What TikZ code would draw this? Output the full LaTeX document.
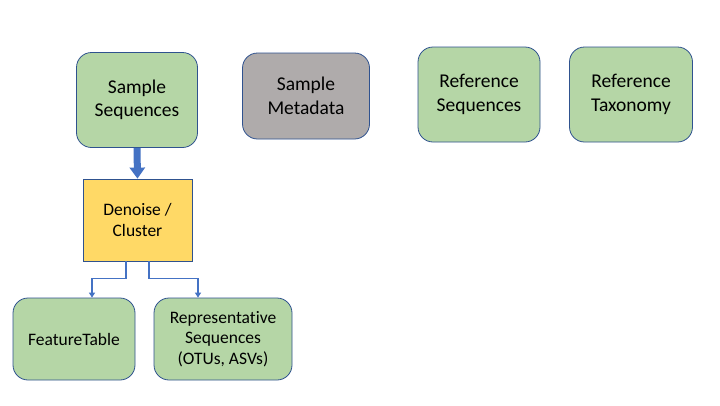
\documentclass[tikz,border=0pt]{standalone}
\usepackage{fontspec}
\setmainfont[Ligatures=NoCommon]{Carlito}
\usetikzlibrary{arrows.meta}
\definecolor{boxgreen}{HTML}{B5D6A6}
\definecolor{boxgrey}{HTML}{AFABAB}
\definecolor{boxyellow}{HTML}{FFD966}
\definecolor{boxline}{HTML}{2F528F}
\definecolor{flow}{HTML}{4472C4}
\begin{document}
\begin{tikzpicture}[x=1pt, y=-1pt]
  \fill [white] (0, 0) rectangle (720, 405);  % page size
  \tikzstyle{box}=[draw=boxline, line width=0.8pt, rounded corners=15pt, align=center,
                   inner sep=0pt, font=\fontsize{19.5}{23.5}\selectfont]
  \tikzstyle{data}=[box, fill=boxgreen]
  \tikzstyle{meta}=[box, fill=boxgrey]
  \tikzstyle{small}=[font=\fontsize{17.5}{20.5}\selectfont]
  \tikzstyle{action}=[draw=boxline, line width=0.8pt, fill=boxyellow, align=center,
                      inner sep=0pt, minimum width=109pt, minimum height=82pt,
                      font=\fontsize{17.5}{21}\selectfont]
  \tikzstyle{conn}=[draw=flow, line width=1.5pt, -{Triangle[width=6pt, length=5pt]}]
  \tikzstyle{fat}=[draw=flow, line width=7pt, -{Triangle[width=15pt, length=11pt]}]

  \node[data, minimum width=121pt, minimum height=95pt] (seqs) at (137, 100)   {Sample\\Sequences};
  \node[meta, minimum width=127pt, minimum height=86pt] (meta) at (306, 96)    {Sample\\Metadata};
  \node[data, minimum width=122pt, minimum height=95pt] (rseq) at (479, 94.5)  {Reference\\Sequences};
  \node[data, minimum width=123pt, minimum height=95pt] (rtax) at (631, 94.5)  {Reference\\Taxonomy};
  \node[action]                                          (den)  at (137.5, 220) {Denoise /\\Cluster};
  \node[data, small, minimum width=122pt, minimum height=82pt] (ft)  at (74, 339)  {FeatureTable};
  \node[data, small, minimum width=138pt, minimum height=82pt] (rep) at (223, 339) {Representative\\Sequences\\(OTUs, ASVs)};

  \draw[fat] (seqs.south) -- (den.north);
  \draw[conn] ([xshift=-11.5pt]den.south) |- ++(-34, 17) -- ([xshift=18pt]ft.north);
  \draw[conn] ([xshift=11.5pt]den.south) |- ++(49, 17) -- ([xshift=-25pt]rep.north);
\end{tikzpicture}
\end{document}
